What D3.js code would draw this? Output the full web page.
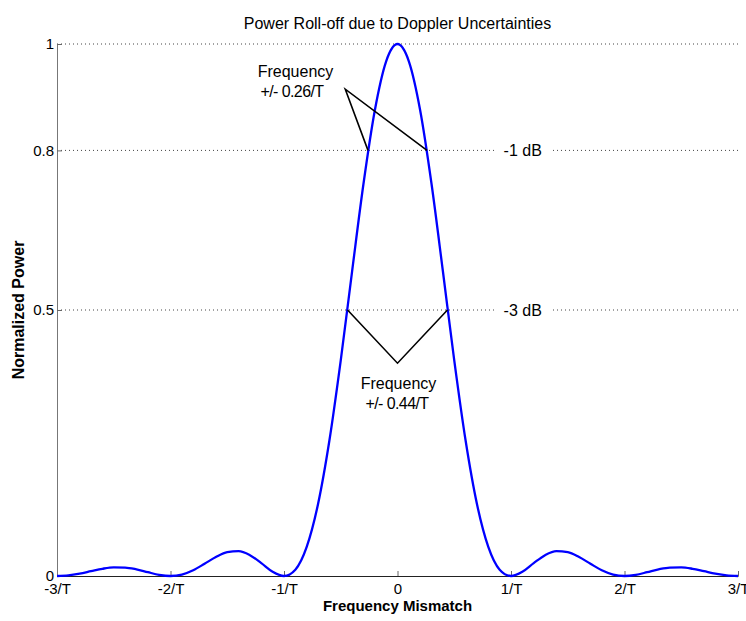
<!DOCTYPE html>
<html><head><meta charset="utf-8">
<script src="https://cdn.jsdelivr.net/npm/d3@7"></script>
<style>body{margin:0;background:#fff}text{font-family:"Liberation Sans",Arial,sans-serif}</style>
</head><body><svg id="c" width="746" height="621"></svg>
<script>
const xValues = [-3,-2.9,-2.8,-2.7,-2.6,-2.5,-2.4,-2.3,-2.2,-2.1,-2,-1.9,-1.8,-1.7,-1.6,-1.5,-1.4,-1.3,-1.2,-1.1,-1,-0.9,-0.8,-0.7,-0.6,-0.5,-0.4,-0.3,-0.2,-0.1,0,0.1,0.2,0.3,0.4,0.5,0.6,0.7,0.8,0.9,1,1.1,1.2,1.3,1.4,1.5,1.6,1.7,1.8,1.9,2,2.1,2.2,2.3,2.4,2.5,2.6,2.7,2.8,2.9,3];
const powerValues = [0,0.0012,0.0045,0.0091,0.0136,0.0162,0.0159,0.0125,0.0072,0.0022,0,0.0027,0.0108,0.0230,0.0358,0.0450,0.0468,0.0392,0.0243,0.0080,0,0.0119,0.0547,0.1353,0.2546,0.4053,0.5728,0.7368,0.8751,0.9675,1,0.9675,0.8751,0.7368,0.5728,0.4053,0.2546,0.1353,0.0547,0.0119,0,0.0080,0.0243,0.0392,0.0468,0.0450,0.0358,0.0230,0.0108,0.0027,0,0.0022,0.0072,0.0125,0.0159,0.0162,0.0136,0.0091,0.0045,0.0012,0];
const xTicks = [-3,-2,-1,0,1,2,3];
const xTickLabels = ["-3/T","-2/T","-1/T","0","1/T","2/T","3/T"];
const yTicks = [0,0.5,0.8,1];
const yTickLabels = ["0","0.5","0.8","1"];
const gridLevels = [0.5,0.8,1];
const dbLevels = [0.8,0.5];
const dbLabels = ["-1 dB","-3 dB"];
const annot1Ends = [[-0.26,0.8],[0.26,0.8]];
const annot1Apex = [-0.46,0.915];
const annot1Text = ["Frequency","+/- 0.26/T"];
const annot2Ends = [[-0.44,0.5],[0.44,0.5]];
const annot2Apex = [0,0.4];
const annot2Text = ["Frequency","+/- 0.44/T"];
const title = "Power Roll-off due to Doppler Uncertainties";
const xLabel = "Frequency Mismatch";
const yLabel = "Normalized Power";

const svg = d3.select("#c");
const L=57,R=738,T=44,B=576;
const x = d3.scaleLinear().domain([-3,3]).range([L,R]);
const y = d3.scaleLinear().domain([0,1]).range([B,T]);

// grid
svg.append("g").selectAll("line").data(gridLevels).join("line")
  .attr("x1",L).attr("x2",R).attr("y1",d=>y(d)).attr("y2",d=>y(d))
  .attr("stroke","#444").attr("stroke-width",1).attr("stroke-dasharray","1,3");

// dB labels with white background
const dbg = svg.append("g");
dbLevels.forEach((v,i)=>{
  dbg.append("rect").attr("x",x(0.86)).attr("y",y(v)-8).attr("width",x(1.36)-x(0.86)).attr("height",16).attr("fill","#fff");
  dbg.append("text").attr("x",x(0.935)).attr("y",y(v)).attr("dy","0.35em")
    .attr("font-size",16).text(dbLabels[i]);
});

// axes
const xa = svg.append("g").attr("transform",`translate(0,${B})`)
  .call(d3.axisBottom(x).tickValues(xTicks).tickFormat((d,i)=>xTickLabels[i]).tickSizeInner(-5).tickSizeOuter(0).tickPadding(7));
xa.select(".domain").attr("stroke","#222");
xa.selectAll(".tick line").attr("stroke","#666");
xa.selectAll("text").attr("font-size",15).attr("fill","#000").attr("font-family","Liberation Sans");

const ya = svg.append("g").attr("transform",`translate(${L},0)`)
  .call(d3.axisLeft(y).tickValues(yTicks).tickFormat((d,i)=>yTickLabels[i]).tickSizeInner(-5).tickSizeOuter(0).tickPadding(3));
ya.select(".domain").attr("stroke","#777");
ya.selectAll(".tick line").attr("stroke","#666");
ya.selectAll("text").attr("font-size",15).attr("fill","#000").attr("font-family","Liberation Sans");

// curve
const line = d3.line().x((d,i)=>x(xValues[i])).y(d=>y(d)).curve(d3.curveMonotoneX);
svg.append("path").datum(powerValues).attr("d",line)
  .attr("fill","none").attr("stroke","#0000ff").attr("stroke-width",2.3);

// annotations
function annot(ends, apex){
  const p = d3.path();
  p.moveTo(x(ends[0][0]),y(ends[0][1]));
  p.lineTo(x(apex[0]),y(apex[1]));
  p.lineTo(x(ends[1][0]),y(ends[1][1]));
  svg.append("path").attr("d",p.toString()).attr("fill","none").attr("stroke","#000").attr("stroke-width",1.6);
}
annot(annot1Ends, annot1Apex);
annot(annot2Ends, annot2Apex);

svg.append("text").attr("x",295.5).attr("y",77).attr("text-anchor","middle").attr("font-size",16).text(annot1Text[0]);
svg.append("text").attr("x",292).attr("y",97).attr("text-anchor","middle").attr("font-size",16).attr("letter-spacing","-0.6").text(annot1Text[1]);
svg.append("text").attr("x",398.5).attr("y",389).attr("text-anchor","middle").attr("font-size",16).text(annot2Text[0]);
svg.append("text").attr("x",397).attr("y",409).attr("text-anchor","middle").attr("font-size",16).attr("letter-spacing","-0.6").text(annot2Text[1]);

svg.append("text").attr("x",x(0)).attr("y",29).attr("text-anchor","middle").attr("font-size",16).text(title);
svg.append("text").attr("x",x(0)).attr("y",611).attr("text-anchor","middle").attr("font-size",15).attr("font-weight","bold").text(xLabel);
svg.append("text").attr("transform",`translate(23.5,${y(0.5)}) rotate(-90)`).attr("text-anchor","middle").attr("font-size",16).attr("font-weight","bold").text(yLabel);
</script></body></html>
